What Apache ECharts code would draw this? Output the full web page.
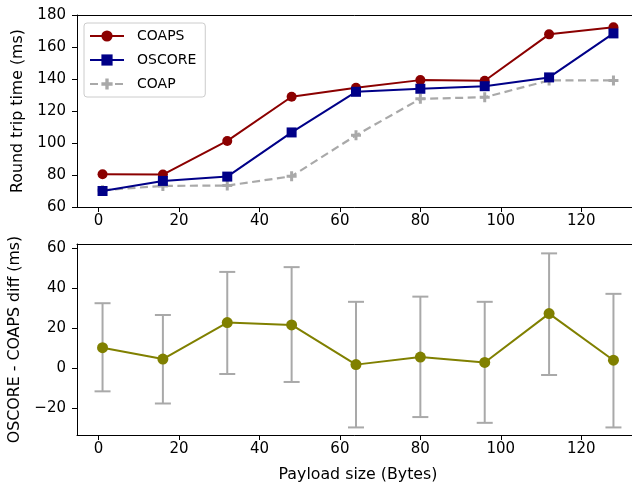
<!DOCTYPE html>
<html>
<head>
<meta charset="utf-8">
<script src="https://cdn.jsdelivr.net/npm/echarts@6/dist/echarts.min.js"></script>
<style>
html,body{margin:0;padding:0;background:#fff;}
#c{width:632px;height:483px;}
</style>
</head>
<body>
<div id="c"></div>
<script>
const payload = [1, 16, 32, 48, 64, 80, 96, 112, 128];
const coaps  = [80.5, 80.3, 101.3, 128.9, 134.5, 139.3, 138.9, 167.9, 172.3];
const oscore = [70.0, 76.3, 79.0, 106.6, 132.0, 133.9, 135.5, 141.0, 168.5];
const coap   = [70.5, 73.2, 73.4, 79.2, 104.8, 127.6, 128.6, 139.1, 139.1];
const diffMean = [10.2, 4.5, 22.8, 21.6, 1.7, 5.5, 2.8, 27.3, 3.9];
const diffLow  = [-11.7, -17.8, -3.0, -7.0, -29.8, -24.6, -27.5, -3.5, -29.8];
const diffHigh = [32.5, 26.6, 48.2, 50.6, 33.2, 35.8, 33.2, 57.5, 37.2];
const xTicks = [0, 20, 40, 60, 80, 100, 120];
const yTopTicks = [60, 80, 100, 120, 140, 160, 180];
const yBotTicks = [-20, 0, 20, 40, 60];

const FONT = 'DejaVu Sans';
const plusPath = 'path://M3.5,0 H6.5 V3.5 H10 V6.5 H6.5 V10 H3.5 V6.5 H0 V3.5 H3.5 Z';

function pairs(ys) { return payload.map((x, i) => [x, ys[i]]); }

const chart = echarts.init(document.getElementById('c'), null, {renderer: 'canvas'});

const tickStyle = {color: '#000', fontFamily: FONT, fontSize: 15};
const nameStyle = {color: '#000', fontFamily: FONT, fontSize: 15.8};
const spine = {show: true, onZero: false, lineStyle: {color: '#000', width: 1}};

function xAxisCfg(gridIndex, name) {
  return {
    type: 'value', gridIndex: gridIndex, min: -5.35, max: 134.35, position: 'bottom',
    splitLine: {show: false},
    axisLine: spine,
    axisTick: {show: true, customValues: xTicks, length: 5, lineStyle: {color: '#000', width: 1}},
    axisLabel: Object.assign({customValues: xTicks, margin: 7}, tickStyle),
    name: name || '', nameLocation: 'middle', nameGap: 32,
    nameTextStyle: nameStyle
  };
}
function topSpineCfg(gridIndex) {
  return {
    type: 'value', gridIndex: gridIndex, min: -5.35, max: 134.35, position: 'top',
    splitLine: {show: false}, axisLine: spine,
    axisTick: {show: false}, axisLabel: {show: false}
  };
}
function yAxisCfg(gridIndex, min, max, ticks, name, gap) {
  return {
    type: 'value', gridIndex: gridIndex, min: min, max: max,
    splitLine: {show: false},
    axisLine: spine,
    axisTick: {show: true, customValues: ticks, length: 5, lineStyle: {color: '#000', width: 1}},
    axisLabel: Object.assign({customValues: ticks, margin: 11, formatter: v => (v < 0 ? '\u2212' + Math.abs(v) : String(v))}, tickStyle),
    name: name, nameLocation: 'middle', nameGap: gap,
    nameTextStyle: nameStyle
  };
}

const errData = payload.map((x, i) => [x, diffLow[i], diffHigh[i]]);

chart.setOption({
  animation: false,
  backgroundColor: '#fff',
  textStyle: {fontFamily: FONT},
  grid: [
    {left: 77, top: 15, width: 562, height: 192, outerBoundsMode: 'none', containLabel: false, show: false},
    {left: 77, top: 244, width: 562, height: 191, outerBoundsMode: 'none', containLabel: false, show: false}
  ],
  legend: {
    orient: 'vertical', left: 84, top: 23,
    padding: [6, 9, 6, 5],
    itemWidth: 34, itemHeight: 14, itemGap: 10,
    backgroundColor: 'rgba(255,255,255,0.8)',
    borderColor: '#cccccc', borderWidth: 1, borderRadius: 3,
    textStyle: {color: '#000', fontFamily: FONT, fontSize: 14, padding: [0, 0, 0, 8]},
    data: ['COAPS', 'OSCORE', 'COAP']
  },
  xAxis: [xAxisCfg(0), xAxisCfg(1, 'Payload size (Bytes)'), topSpineCfg(0), topSpineCfg(1)],
  yAxis: [
    yAxisCfg(0, 60, 180, yTopTicks, 'Round trip time (ms)', 51),
    yAxisCfg(1, -33.6, 62.2, yBotTicks, 'OSCORE - COAPS diff (ms)', 54)
  ],
  series: [
    {
      name: 'COAPS', type: 'line', xAxisIndex: 0, yAxisIndex: 0,
      data: pairs(coaps), symbol: 'circle', symbolSize: 10,
      lineStyle: {color: '#8b0000', width: 2}, itemStyle: {color: '#8b0000'}, z: 3
    },
    {
      name: 'OSCORE', type: 'line', xAxisIndex: 0, yAxisIndex: 0,
      data: pairs(oscore), symbol: 'rect', symbolSize: 10,
      lineStyle: {color: '#000088', width: 2}, itemStyle: {color: '#000088'}, z: 3
    },
    {
      name: 'COAP', type: 'line', xAxisIndex: 0, yAxisIndex: 0,
      data: pairs(coap), symbol: plusPath, symbolSize: 10,
      lineStyle: {color: '#a9a9a9', width: 2.2, type: [8, 4.5]}, itemStyle: {color: '#a9a9a9'}, z: 2
    },
    {
      name: 'err', type: 'custom', xAxisIndex: 1, yAxisIndex: 1,
      data: errData, z: 1,
      renderItem: function (params, api) {
        const x = api.value(0);
        const lo = api.coord([x, api.value(1)]);
        const hi = api.coord([x, api.value(2)]);
        const cap = 8;
        const style = {stroke: '#a9a9a9', lineWidth: 2};
        return {
          type: 'group',
          children: [
            {type: 'line', shape: {x1: lo[0], y1: lo[1], x2: hi[0], y2: hi[1]}, style: style},
            {type: 'line', shape: {x1: lo[0] - cap, y1: lo[1], x2: lo[0] + cap, y2: lo[1]}, style: style},
            {type: 'line', shape: {x1: hi[0] - cap, y1: hi[1], x2: hi[0] + cap, y2: hi[1]}, style: style}
          ]
        };
      }
    },
    {
      name: 'diff', type: 'line', xAxisIndex: 1, yAxisIndex: 1,
      data: pairs(diffMean), symbol: 'circle', symbolSize: 11,
      lineStyle: {color: '#808000', width: 2}, itemStyle: {color: '#808000'}, z: 3
    }
  ]
});
</script>
</body>
</html>
